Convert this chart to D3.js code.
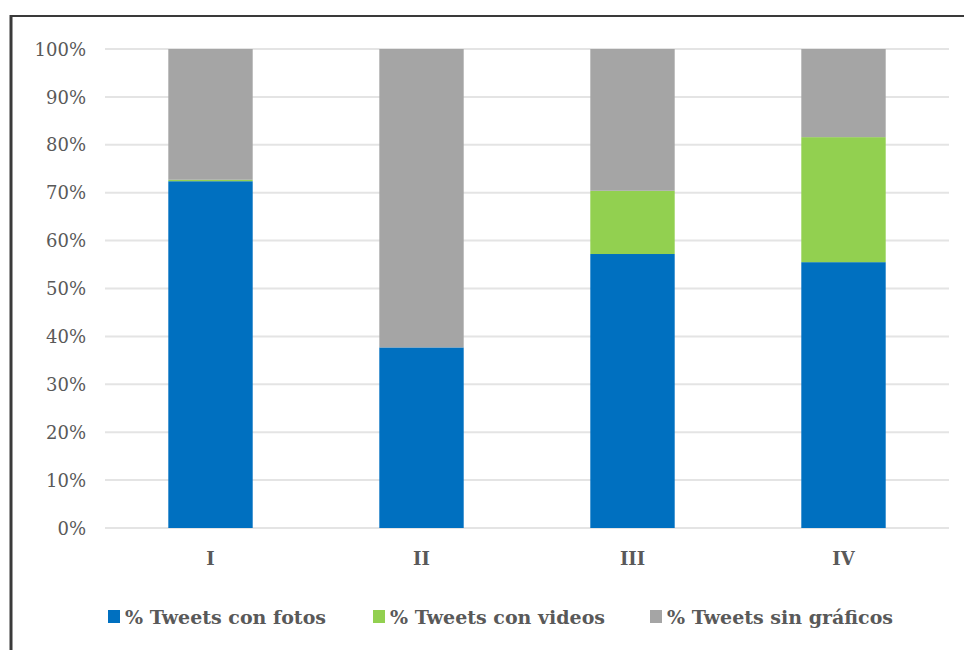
<!DOCTYPE html>
<html>
<head>
<meta charset="utf-8">
<script src="https://cdn.jsdelivr.net/npm/d3@7/dist/d3.min.js"></script>
<style>
  html, body { margin: 0; padding: 0; background: #fff; }
  svg { display: block; }
  svg text { font-family: "DejaVu Serif", "Liberation Serif", "Times New Roman", serif; }
</style>
</head>
<body>
<svg id="chart" width="964" height="650"></svg>
<script>
// Categories and percentage shares of tweets by content type
const categories = ["I", "II", "III", "IV"];
const seriesNames = ["% Tweets con fotos", "% Tweets con videos", "% Tweets sin gráficos"];
const fotos = [72.4, 37.7, 57.2, 55.5];
const videos = [0.3, 0, 13.2, 26.1];
const sinGraficos = [27.3, 62.3, 29.6, 18.4];
const yTicks = [0, 10, 20, 30, 40, 50, 60, 70, 80, 90, 100];
const colors = ["#0070c0", "#92d050", "#a5a5a5"];

const rows = categories.map((c, i) => ({
  cat: c, fotos: fotos[i], videos: videos[i], sin: sinGraficos[i]
}));
const keys = ["fotos", "videos", "sin"];
const stacked = d3.stack().keys(keys)(rows);

const svg = d3.select("#chart");
const textColor = "#595959";

// Outer frame
svg.append("line").attr("x1", 10).attr("x2", 964).attr("y1", 16).attr("y2", 16)
  .attr("stroke", "#3a3a3a").attr("stroke-width", 2);
svg.append("line").attr("x1", 11).attr("x2", 11).attr("y1", 15).attr("y2", 650)
  .attr("stroke", "#3a3a3a").attr("stroke-width", 3);

const plot = { left: 105, right: 949, top: 49, bottom: 528 };

const x = d3.scaleBand().domain(categories)
  .range([plot.left, plot.right]).paddingInner(0.6).paddingOuter(0.3);
const y = d3.scaleLinear().domain([0, 100]).range([plot.bottom, plot.top]);

// Horizontal gridlines
svg.append("g").selectAll("line").data(yTicks).join("line")
  .attr("x1", plot.left).attr("x2", plot.right)
  .attr("y1", d => y(d)).attr("y2", d => y(d))
  .attr("stroke", "#e4e4e4").attr("stroke-width", 2);

// Y axis labels
const yAxis = d3.axisLeft(y).tickValues(yTicks).tickFormat(d => d + "%").tickSize(0).tickPadding(0);
const gy = svg.append("g").attr("transform", `translate(86,0)`).call(yAxis);
gy.select(".domain").remove();
gy.attr("font-family", null);
gy.selectAll("text").attr("font-size", 18)
  .attr("fill", textColor).attr("dy", "0.34em");

// Stacked bars
svg.append("g").selectAll("g").data(stacked).join("g")
  .attr("fill", (d, i) => colors[i])
  .selectAll("rect").data(d => d).join("rect")
  .attr("x", d => x(d.data.cat))
  .attr("width", x.bandwidth())
  .attr("y", d => y(d[1]))
  .attr("height", d => Math.max(0, y(d[0]) - y(d[1])));

// Category axis
const xAxis = d3.axisBottom(x).tickSize(0).tickPadding(0);
const gx = svg.append("g").attr("transform", `translate(0,${plot.bottom + 24})`).call(xAxis);
gx.select(".domain").remove();
gx.attr("font-family", null);
gx.selectAll("text").attr("font-size", 18)
  .attr("font-weight", "bold").attr("fill", textColor).attr("dy", "0.71em");

// Legend
const legendX = [108, 373, 650];
const legend = svg.append("g").selectAll("g").data(seriesNames).join("g")
  .attr("transform", (d, i) => `translate(${legendX[i]},617)`);
legend.append("rect").attr("x", 0).attr("y", -7).attr("width", 12).attr("height", 13)
  .attr("fill", (d, i) => colors[i]);
legend.append("text").attr("x", 17).attr("y", 0).attr("dy", "0.35em")
  .attr("font-size", 19).attr("font-weight", "bold")
  .attr("fill", textColor).text(d => d);
</script>
</body>
</html>
